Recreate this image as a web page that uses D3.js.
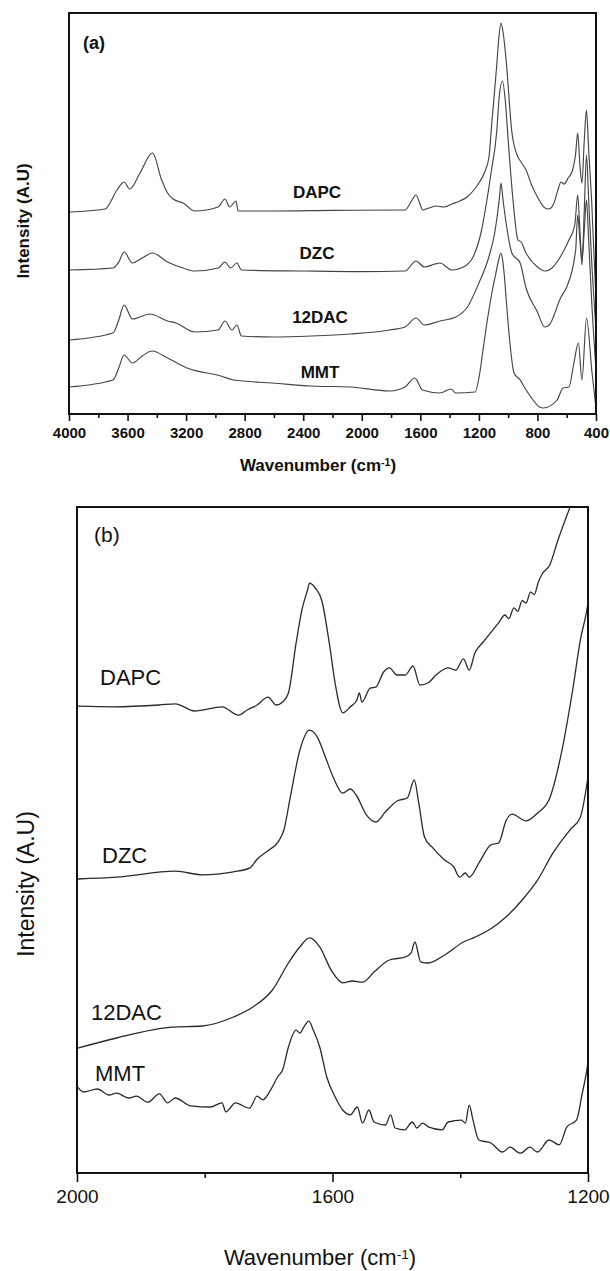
<!DOCTYPE html>
<html>
<head>
<meta charset="utf-8">
<script src="https://d3js.org/d3.v7.min.js"></script>
<style>
  body { margin: 0; background: #fff; }
  svg text { font-family: "Liberation Sans", Arial, sans-serif; fill: #111; }
</style>
</head>
<body>
<div id="chart"></div>
<script>
// ---- data: [wavenumber, intensity (a.u.)] ----
// panel (a): full range 4000-400 cm-1
const dapcA = [[4000,50.5],[3754,51.25],[3672,56],[3624,58],[3585,56.25],[3515,60.25],[3430,65.25],[3367,58.5],[3327,55.25],[3289,53.75],[3221,52.75],[3140,50.75],[2981,51.75],[2935,53.75],[2902,51.75],[2859,53.25],[2845,50.75],[2600,50.75],[2200,50.9],[1705,51],[1664,53],[1630,54.75],[1600,52.25],[1585,51],[1540,51.5],[1493,52],[1440,51.75],[1384,52.5],[1330,53.25],[1280,54.25],[1240,55.75],[1200,57.75],[1160,60.5],[1131,64.25],[1114,71.75],[1079,86.75],[1062,94.75],[1049,97.75],[1035,95.5],[1014,88.5],[974,70.25],[933,64.25],[912,63],[878,61],[840,57.25],[800,54.25],[748,51.5],[721,51.25],[690,52.5],[660,56],[639,58],[619,57.5],[590,59],[560,61],[540,64.75],[525,70.25],[510,62.25],[496,57.75],[480,68.5],[465,76],[450,66],[430,53.5],[400,28.5]];
const dzcA = [[4000,36],[3700,36.5],[3660,38],[3624,40.5],[3567,37.75],[3500,39],[3430,40.25],[3327,38],[3221,36.5],[3140,35.75],[2981,36.5],[2935,38],[2896,36.5],[2853,37.75],[2822,36],[2400,35.75],[2000,35.6],[1705,35.75],[1630,38.25],[1572,36.75],[1500,37.5],[1466,37.75],[1384,36],[1305,36.75],[1240,39.25],[1186,45.25],[1145,53.5],[1114,61],[1079,70.25],[1060,79.75],[1039,83.25],[1020,78.5],[1000,68.5],[967,53.5],[933,43.5],[912,43],[878,40.25],[800,36.75],[748,35.75],[700,36.5],[666,38],[625,40.5],[585,43.5],[545,47.25],[525,54.75],[510,46],[496,37.25],[480,51],[465,64.75],[450,53.5],[430,38.5],[400,21]];
const dacA = [[4000,18.5],[3700,20.25],[3660,23.5],[3624,27.25],[3567,23.75],[3447,25],[3327,23.25],[3270,22.75],[3140,20.5],[2981,21],[2935,23.25],[2887,21],[2853,22.25],[2822,19.5],[2609,19.25],[2343,19.5],[2077,20],[1811,21],[1705,21.75],[1630,24],[1572,22.25],[1466,23.25],[1358,24.25],[1278,26.75],[1200,32.75],[1132,39.25],[1092,45.25],[1061,53.5],[1049,57.75],[1035,53.5],[1010,46.75],[975,40.25],[918,37.75],[878,31.5],[800,25.5],[751,21.75],[720,22.25],[639,29.25],[600,31.75],[539,41],[525,49.75],[510,43.5],[496,38.5],[480,46],[465,53.5],[450,43.5],[430,28.5],[400,11]];
const mmtA = [[4000,6.75],[3700,8.5],[3660,11.5],[3624,14.75],[3567,12.75],[3500,14.5],[3433,15.75],[3327,14],[3194,11.5],[2963,9.5],[2875,8.5],[2609,7.75],[2343,7],[2077,6.75],[1811,5.75],[1705,6.75],[1638,9],[1585,6],[1466,5.25],[1390,6.25],[1358,5.25],[1226,5.5],[1195,10],[1172,16],[1140,24],[1110,30.5],[1085,35],[1065,38.5],[1050,40.25],[1040,39],[1026,34.5],[1012,28],[990,18.5],[960,10.25],[918,8.5],[890,6.75],[840,4],[786,1.75],[760,1.5],[666,3.5],[625,6.5],[585,6.75],[551,12.75],[520,17.75],[496,8.5],[465,24],[427,10.25],[400,1.5]];

// panel (b): 2000-1200 cm-1
const dapcB = [[1999,77.8],[1944,77.7],[1871,78],[1846,78.2],[1816,77],[1773,77.7],[1747,76.3],[1733,77.2],[1718,78],[1701,79.3],[1688,78],[1678,78.5],[1669,80],[1657,88.3],[1648,93.8],[1639,97.2],[1636,98.3],[1627,97.5],[1617,95.5],[1605,88.3],[1596,81.7],[1584,76.7],[1572,77.7],[1562,78.8],[1558,80],[1554,78.5],[1541,80.8],[1532,81],[1520,83.5],[1511,84.2],[1499,83],[1486,83],[1474,84.5],[1463,81.3],[1450,81.7],[1438,83],[1419,84.2],[1407,83.8],[1395,85.7],[1386,83.8],[1377,86.7],[1364,88.5],[1340,91.7],[1330,93],[1324,92.4],[1316,94.2],[1310,93.6],[1303,95.4],[1297,95],[1290,96.8],[1284,96.4],[1278,98.4],[1272,99.8],[1260,101.3],[1247,105.5],[1228,111]];
const dzcB = [[1999,49],[1938,49.3],[1846,50.3],[1804,49.7],[1755,50.2],[1730,50.8],[1718,52.3],[1700,53.8],[1685,55.2],[1676,57.2],[1666,62.7],[1651,70.5],[1636,73.8],[1624,72.7],[1611,69.3],[1599,66],[1584,63.3],[1572,64],[1563,63],[1547,59.7],[1532,58.5],[1517,60.2],[1499,62],[1483,62.5],[1472,65.5],[1465,61.7],[1456,56],[1444,54.3],[1425,52.2],[1410,51],[1401,49.3],[1392,50],[1386,49.3],[1370,51.8],[1352,54.7],[1340,55],[1328,58.8],[1319,59.8],[1297,58.7],[1279,60],[1261,62.2],[1243,69.3],[1224,80.5],[1212,88.8],[1201,94.3],[1200,95]];
const dacB = [[1999,20.8],[1938,22.5],[1852,24.3],[1804,24.5],[1755,26],[1724,27.7],[1694,30.5],[1669,35],[1651,37.7],[1636,39.2],[1620,37.7],[1602,33.8],[1584,31.7],[1569,32],[1553,31.8],[1535,33.5],[1511,35.5],[1486,36],[1477,36.7],[1471,38.5],[1462,35.2],[1450,35],[1425,36.3],[1395,38.5],[1377,39.3],[1352,40.7],[1328,42.7],[1303,45.5],[1279,48.8],[1255,53.3],[1228,57.2],[1212,59.3],[1200,66]];
const mmtB = [[1999,14.3],[1990,13.5],[1968,14],[1950,13],[1938,13.3],[1919,12.5],[1907,12.8],[1889,11.8],[1871,13.2],[1858,11.7],[1846,12.5],[1822,11.2],[1791,11],[1773,11.7],[1767,10.2],[1752,11.7],[1730,10.8],[1718,12.8],[1709,12.2],[1697,13.8],[1686,16],[1678,17.2],[1669,21],[1657,23.8],[1651,23.3],[1645,24.3],[1637,25.3],[1630,23.8],[1620,21],[1609,16],[1596,12.7],[1584,10.5],[1572,9.7],[1561,11],[1553,8.3],[1543,10.5],[1535,8.5],[1517,8],[1509,9.7],[1502,7.5],[1487,7.2],[1475,8.5],[1468,7.5],[1459,8.3],[1450,7.7],[1428,7.2],[1419,8.5],[1398,8.8],[1392,8.3],[1386,11.3],[1380,8.8],[1371,5.5],[1352,5],[1334,3.5],[1322,4.3],[1306,3.3],[1291,4.3],[1279,3.5],[1261,5.5],[1245,4.7],[1233,7.7],[1218,8.8],[1209,13.3],[1201,17.7],[1200,18.5]];

const seriesNames = ["DAPC", "DZC", "12DAC", "MMT"];
const majorA = [4000,3600,3200,2800,2400,2000,1600,1200,800,400];
const minorA = [3800,3400,3000,2600,2200,1800,1400,1000,600];
const majorB = [2000,1600,1200];
const minorB = [1800,1400];

const width = 610, height = 1271;
const svg = d3.create("svg").attr("width", width).attr("height", height);

function panel(o) {
  const x = d3.scaleLinear().domain(o.xDomain).range([o.left, o.right]);
  const y = d3.scaleLinear().domain(o.yDomain).range([o.bottom, o.top]);
  const g = svg.append("g");

  g.append("clipPath").attr("id", o.id + "-clip")
    .append("rect").attr("x", o.left).attr("y", o.top)
    .attr("width", o.right - o.left).attr("height", o.bottom - o.top);

  const line = d3.line().x(d => x(d[0])).y(d => y(d[1])).curve(d3.curveMonotoneX);
  g.append("g").attr("clip-path", `url(#${o.id}-clip)`)
    .selectAll("path").data(o.series).join("path")
    .attr("d", d => line(d))
    .attr("fill", "none")
    .attr("stroke", o.lineColor)
    .attr("stroke-width", o.lineWidth)
    .attr("stroke-linejoin", "round");

  // axis ticks
  const ax = g.append("g").attr("transform", `translate(0,${o.bottom})`)
    .call(d3.axisBottom(x).tickValues(o.major).tickSize(o.majorLen).tickPadding(o.pad).tickFormat(d3.format("d")));
  ax.select(".domain").remove();
  ax.selectAll("line").attr("stroke", "#111").attr("stroke-width", 1.6);
  ax.selectAll("text").attr("font-size", o.tickFont).attr("font-weight", o.weight)
    .attr("fill", "#111").attr("font-family", "Liberation Sans, Arial, sans-serif");

  const mx = g.append("g").attr("transform", `translate(0,${o.bottom})`)
    .call(d3.axisBottom(x).tickValues(o.minor).tickSize(o.minorLen).tickFormat(""));
  mx.select(".domain").remove();
  mx.selectAll("line").attr("stroke", "#111").attr("stroke-width", 1.6);

  // frame
  g.append("rect").attr("x", o.left).attr("y", o.top)
    .attr("width", o.right - o.left).attr("height", o.bottom - o.top)
    .attr("fill", "none").attr("stroke", "#111").attr("stroke-width", 2);

  // panel tag
  g.append("text").attr("x", o.tag[0]).attr("y", o.tag[1])
    .attr("font-size", o.tagFont).attr("font-weight", o.weight).text(o.tagText);

  // series labels
  g.selectAll(".lab").data(o.labels).join("text")
    .attr("x", d => d[0]).attr("y", d => d[1])
    .attr("text-anchor", o.labelAnchor)
    .attr("font-size", o.labelFont).attr("font-weight", o.weight)
    .text((d, i) => seriesNames[i]);

  // x title
  const t = g.append("text").attr("x", o.xTitle[0]).attr("y", o.xTitle[1])
    .attr("text-anchor", "middle").attr("font-size", o.titleFont).attr("font-weight", o.weight);
  t.append("tspan").text("Wavenumber (cm");
  t.append("tspan").attr("dy", "-0.45em").attr("font-size", "0.62em").text("-1");
  t.append("tspan").attr("dy", "0.28em").text(")");

  // y title
  g.append("text")
    .attr("transform", `translate(${o.yTitle[0]},${o.yTitle[1]}) rotate(-90)`)
    .attr("text-anchor", "middle").attr("font-size", o.yFont).attr("font-weight", o.weight)
    .text("Intensity (A.U)");
}

panel({
  id: "a", left: 69, right: 596, top: 13, bottom: 414,
  xDomain: [4000, 400], yDomain: [0, 100.25],
  series: [dapcA, dzcA, dacA, mmtA],
  lineColor: "#444", lineWidth: 1.15,
  major: majorA, minor: minorA, majorLen: 7, minorLen: 4, pad: 6,
  tickFont: "15px", weight: "bold",
  tag: [83, 49], tagText: "(a)", tagFont: "18px",
  labels: [[317, 198], [317, 259], [320, 323], [320, 378]], labelAnchor: "middle", labelFont: "17px",
  xTitle: [318, 471], titleFont: "17px",
  yTitle: [29, 221], yFont: "17px"
});

panel({
  id: "b", left: 77, right: 588, top: 507, bottom: 1173,
  xDomain: [2000, 1200], yDomain: [0, 111],
  series: [dapcB, dzcB, dacB, mmtB],
  lineColor: "#2a2a2a", lineWidth: 1.3,
  major: majorB, minor: minorB, majorLen: 9, minorLen: 5, pad: 8,
  tickFont: "19px", weight: "normal",
  tag: [94, 542], tagText: "(b)", tagFont: "21px",
  labels: [[100, 685], [102, 863], [91, 1020], [95, 1081]], labelAnchor: "start", labelFont: "22px",
  xTitle: [320, 1265], titleFont: "22px",
  yTitle: [34, 884], yFont: "23px"
});

document.getElementById("chart").appendChild(svg.node());
</script>
</body>
</html>
